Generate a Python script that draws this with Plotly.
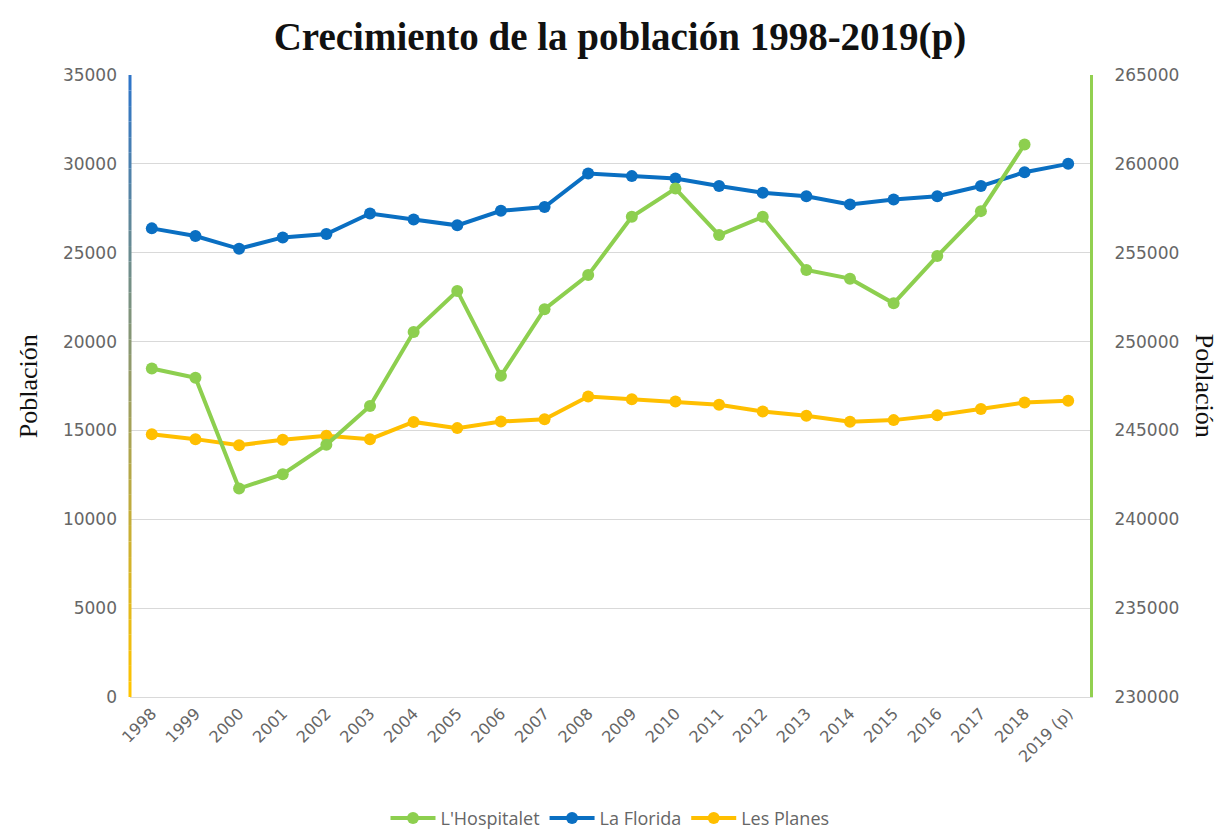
"""Crecimiento de la población 1998-2019(p): three neighbourhood series on two y axes."""

import plotly.graph_objects as go

YEARS = ["1998", "1999", "2000", "2001", "2002", "2003", "2004", "2005", "2006",
         "2007", "2008", "2009", "2010", "2011", "2012", "2013", "2014", "2015",
         "2016", "2017", "2018", "2019 (p)"]

# L'Hospitalet is read on the right axis
HOSPITALET = [248480, 247960, 241730, 242540, 244190, 246380, 250540, 252850,
              248070, 251820, 253740, 257020, 258610, 255990, 257020, 254030,
              253540, 252150, 254810, 257340, 261090, None]
LA_FLORIDA = [26370, 25940, 25220, 25860, 26050, 27210, 26870, 26540, 27360,
              27570, 29460, 29310, 29180, 28750, 28370, 28180, 27720, 28000,
              28180, 28750, 29530, 30000]
LES_PLANES = [14790, 14510, 14170, 14470, 14700, 14510, 15480, 15130, 15500,
              15630, 16910, 16760, 16630, 16440, 16070, 15820, 15490, 15580,
              15860, 16200, 16570, 16670]

GREEN = "#8DCF4F"
BLUE = "#0A6FC2"
YELLOW = "#FFBF00"
TICK_GREY = "#666666"
TICK_FONT = {"family": "DejaVu Sans", "size": 17, "color": TICK_GREY}
SERIF = "Liberation Serif"

fig = go.Figure()

fig.add_trace(go.Scatter(
    x=YEARS, y=HOSPITALET, name="L'Hospitalet", yaxis="y2",
    mode="lines+markers", line={"color": GREEN, "width": 4},
    marker={"color": GREEN, "size": 12},
))
fig.add_trace(go.Scatter(
    x=YEARS, y=LA_FLORIDA, name="La Florida",
    mode="lines+markers", line={"color": BLUE, "width": 4},
    marker={"color": BLUE, "size": 12},
))
fig.add_trace(go.Scatter(
    x=YEARS, y=LES_PLANES, name="Les Planes",
    mode="lines+markers", line={"color": YELLOW, "width": 4},
    marker={"color": YELLOW, "size": 12},
))

# left axis line: blue at top fading to yellow at the bottom
n_seg = 40
top_rgb = (47, 117, 200)
bot_rgb = (255, 196, 0)
for i in range(n_seg):
    t = i / (n_seg - 1)
    r, g, b = (int(bot_rgb[k] + (top_rgb[k] - bot_rgb[k]) * t) for k in range(3))
    fig.add_shape(type="line", xref="paper", yref="paper",
                  x0=0, x1=0, y0=i / n_seg, y1=(i + 1) / n_seg,
                  line={"color": f"rgb({r},{g},{b})", "width": 3}, layer="above")

# page body adds an 8px offset, margins compensate for it
fig.update_layout(
    width=1224, height=830,
    paper_bgcolor="white", plot_bgcolor="white",
    margin={"l": 122, "r": 142, "t": 67, "b": 141, "autoexpand": False},
    title={"text": "<b>Crecimiento de la población 1998-2019(p)</b>",
           "x": 0.5, "xanchor": "center", "y": 0.966, "yanchor": "middle",
           "font": {"family": SERIF, "size": 39, "color": "#111"}},
    xaxis={"type": "category", "range": [-0.5, 21.5], "showgrid": False,
           "tickangle": -45, "tickfont": {**TICK_FONT, "size": 16},
           "automargin": False, "showline": True, "linecolor": "#D9D9D9",
           "linewidth": 1, "ticks": ""},
    yaxis={"range": [0, 35000], "dtick": 5000, "tickformat": "d",
           "tickfont": TICK_FONT, "gridcolor": "#D9D9D9", "gridwidth": 1,
           "automargin": False, "zeroline": False, "showline": False,
           "ticklabelstandoff": 12},
    yaxis2={"range": [230000, 265000], "dtick": 5000, "tickformat": "d",
            "overlaying": "y", "side": "right", "tickfont": TICK_FONT,
            "automargin": False, "showgrid": False, "zeroline": False,
            "showline": True, "linecolor": "#92D050", "linewidth": 3,
            "ticklabelstandoff": 18},
    legend={"orientation": "h", "x": 0.5, "xanchor": "center",
            "y": -0.195, "yanchor": "middle", "itemwidth": 45,
            "font": {"family": "Open Sans", "size": 18, "color": TICK_GREY}},
    showlegend=True,
)

fig.add_annotation(text="Población", xref="paper", yref="paper",
                   x=-0.106, y=0.5, xanchor="center", yanchor="middle",
                   textangle=-90, showarrow=False,
                   font={"family": SERIF, "size": 26, "color": "#111"})
fig.add_annotation(text="Población", xref="paper", yref="paper",
                   x=1.12, y=0.5, xanchor="center", yanchor="middle",
                   textangle=90, showarrow=False,
                   font={"family": SERIF, "size": 26, "color": "#111"})

fig.write_html("out.html")
